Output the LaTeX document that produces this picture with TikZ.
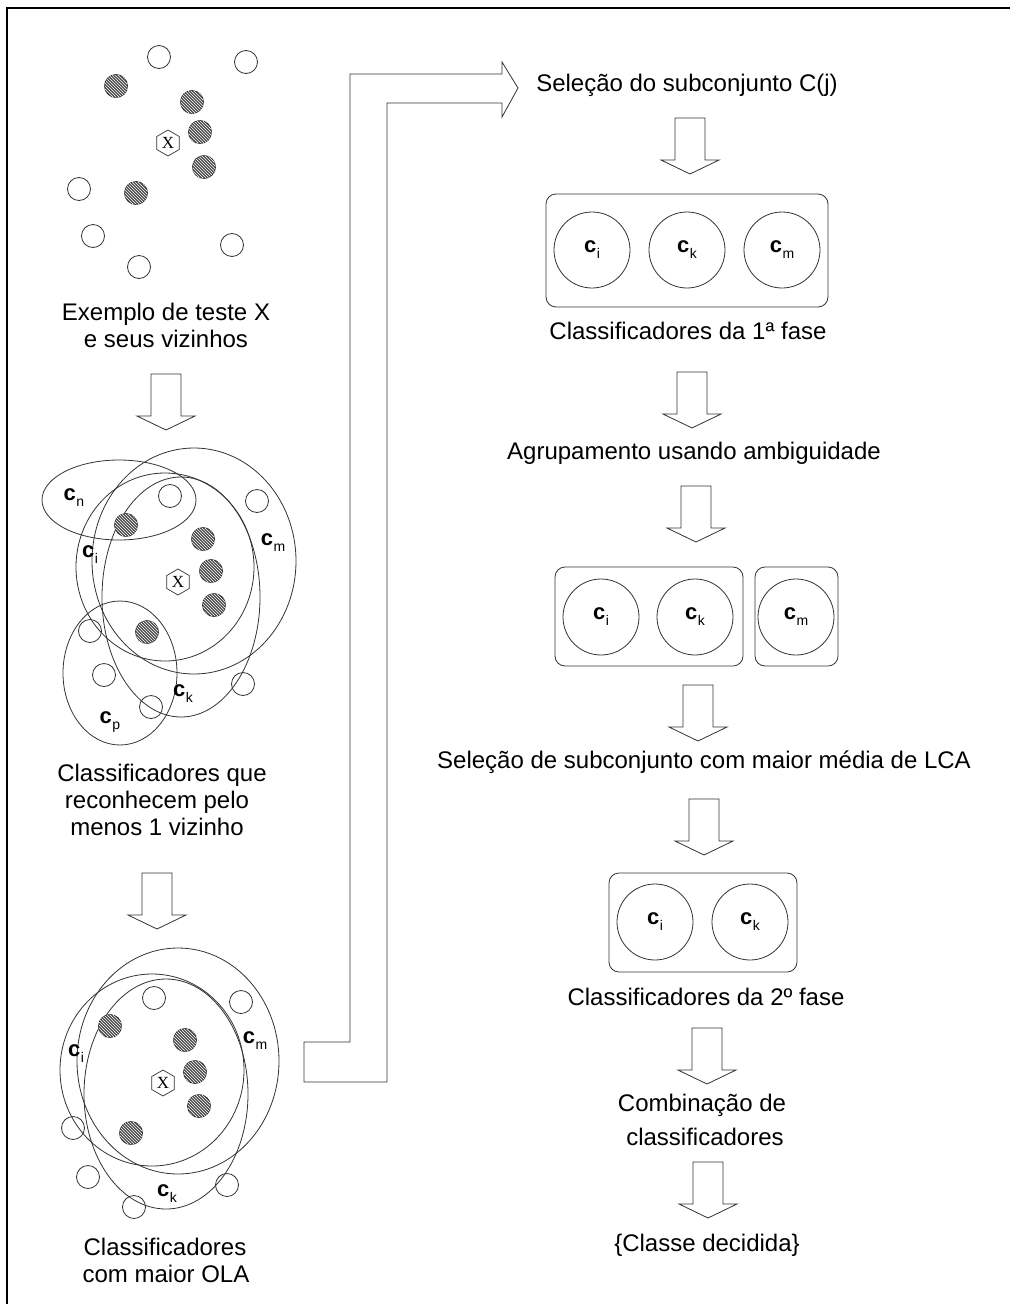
\documentclass[tikz,border=0pt]{standalone}
\usepackage{fontspec}
\setmainfont{Liberation Sans}
\newfontfamily\xserif{Liberation Serif}
\usetikzlibrary{shapes.geometric,patterns}

\newcommand\csub[1]{{\fontsize{22}{22}\selectfont\bfseries c}\kern0.5pt\raisebox{-6pt}{\fontsize{14}{14}\selectfont #1}}

\tikzset{
 ln/.style={draw=black!80, line width=0.8pt},
 opendot/.style={circle, draw=black!80, line width=0.8pt, minimum size=23pt, inner sep=0pt},
 hatchdot/.style={circle, draw=black!80, line width=0.8pt, minimum size=23pt, inner sep=0pt, fill=black!70, postaction={pattern=north west lines, pattern color=white}},
 xnode/.style={regular polygon, regular polygon sides=6, shape border rotate=30, draw=black!80, line width=0.7pt, minimum size=26pt, inner sep=0pt, font=\xserif\fontsize{17}{17}\selectfont},
 txt/.style={anchor=base, font=\fontsize{24}{24}\selectfont, inner sep=0pt},
 clsc/.style={circle, draw=black!80, line width=0.8pt, minimum size=76pt, inner sep=0pt},
 grp/.style={draw=black!80, line width=0.8pt, rounded corners=10pt},
 elab/.style={inner sep=0pt},
 blockdown/.pic={\draw[draw=black!80, line width=0.8pt] (-15,0) -- (15,0) -- (15,42) -- (29,42) -- (0,56) -- (-29,42) -- (-15,42) -- cycle;}
}

\begin{document}
\begin{tikzpicture}[x=1pt,y=-1pt]
\useasboundingbox (0,0) rectangle (1010,1304);
\fill[white] (0,0) rectangle (1010,1304);
\draw[line width=1.5pt] (1010,8) -- (7,8) -- (7,1304);

% ---------- scatter 1 ----------
\foreach \p [count=\i] in {(159,57),(246,62),(79,189),(93,236),(232,245),(139,267)}
  \node[opendot] (sa\i) at \p {};
\foreach \p [count=\i] in {(116,86),(192,102),(200,132),(204,167),(136,193)}
  \node[hatchdot] (sh\i) at \p {};
\node[xnode] (sx) at (168,143) {X};
\node[txt] (t1a) at (166,320) {Exemplo de teste X};
\node[txt] (t1b) at (166,347) {e seus vizinhos};
\pic at (166,374) {blockdown};

% ---------- cluster 2 ----------
\draw[ln] (194,561) ellipse [x radius=102, y radius=113];
\draw[ln] (165,567) ellipse [x radius=89, y radius=94];
\draw[ln] (181,597) ellipse [x radius=79, y radius=120];
\draw[ln] (119,500) ellipse [x radius=77, y radius=40];
\draw[ln] (120,673) ellipse [x radius=57, y radius=72];
\foreach \p [count=\i] in {(170,496),(257,501),(90,631),(104,675),(151,707),(243,684)}
  \node[opendot] (ma\i) at \p {};
\foreach \p [count=\i] in {(126,525),(203,539),(211,571),(214,605),(147,632)}
  \node[hatchdot] (mh\i) at \p {};
\node[xnode] (mx) at (178,582) {X};
\node[elab] (mln) at (74,498) {\csub{n}};
\node[elab] (mli) at (90,555) {\csub{i}};
\node[elab] (mlm) at (273,543) {\csub{m}};
\node[elab] (mlk) at (183,694) {\csub{k}};
\node[elab] (mlp) at (110,722) {\csub{p}};
\node[txt] (t2a) at (162,781) {Classificadores que};
\node[txt] (t2b) at (157,808) {reconhecem pelo};
\node[txt] (t2c) at (157,835) {menos 1 vizinho};
\pic at (157,873) {blockdown};

% ---------- cluster 3 ----------
\draw[ln] (178,1061) ellipse [x radius=101, y radius=113];
\draw[ln] (152,1070) ellipse [x radius=92, y radius=96];
\draw[ln] (166,1094) ellipse [x radius=82, y radius=115];
\foreach \p [count=\i] in {(154,998),(241,1002),(73,1128),(88,1177),(134,1207),(227,1185)}
  \node[opendot] (ba\i) at \p {};
\foreach \p [count=\i] in {(110,1026),(185,1040),(195,1072),(199,1106),(131,1133)}
  \node[hatchdot] (bh\i) at \p {};
\node[xnode] (bx) at (163,1083) {X};
\node[elab] (bli) at (76,1054) {\csub{i}};
\node[elab] (blm) at (255,1041) {\csub{m}};
\node[elab] (blk) at (167,1194) {\csub{k}};
\node[txt] (t3a) at (165,1255) {Classificadores};
\node[txt] (t3b) at (166,1282) {com maior OLA};

% ---------- bent arrow ----------
\draw[draw=black!80, line width=0.8pt] (304,1042) -- (350,1042) -- (350,74) -- (502,74) -- (502,62) -- (518,88) -- (502,117) -- (502,103) -- (387,103) -- (387,1082) -- (304,1082) -- cycle;

% ---------- right column ----------
\node[txt] (r1) at (687,91) {Seleção do subconjunto C(j)};
\pic at (690,118) {blockdown};
\draw[grp] (546,194) rectangle (828,307);
\node[clsc] (c1i) at (592,250) {\csub{i}};
\node[clsc] (c1k) at (687,250) {\csub{k}};
\node[clsc] (c1m) at (782,250) {\csub{m}};
\node[txt] (r2) at (688,339) {Classificadores da 1ª fase};
\pic at (692,372) {blockdown};
\node[txt] (r3) at (694,459) {Agrupamento usando ambiguidade};
\pic at (696,486) {blockdown};
\draw[grp] (555,567) rectangle (743,666);
\draw[grp] (755,567) rectangle (838,666);
\node[clsc] (c2i) at (601,617) {\csub{i}};
\node[clsc] (c2k) at (695,617) {\csub{k}};
\node[clsc] (c2m) at (796,617) {\csub{m}};
\pic at (698,685) {blockdown};
\node[txt] (r4) at (704,768) {Seleção de subconjunto com maior média de LCA};
\pic at (704,799) {blockdown};
\draw[grp] (609,873) rectangle (797,972);
\node[clsc] (c3i) at (655,922) {\csub{i}};
\node[clsc] (c3k) at (750,922) {\csub{k}};
\node[txt] (r5) at (706,1005) {Classificadores da 2º fase};
\pic at (707,1028) {blockdown};
\node[txt] (r6a) at (702,1111) {Combinação de};
\node[txt] (r6b) at (705,1145) {classificadores};
\pic at (708,1162) {blockdown};
\node[txt] (r7) at (707,1251) {\{Classe decidida\}};
\end{tikzpicture}
\end{document}
